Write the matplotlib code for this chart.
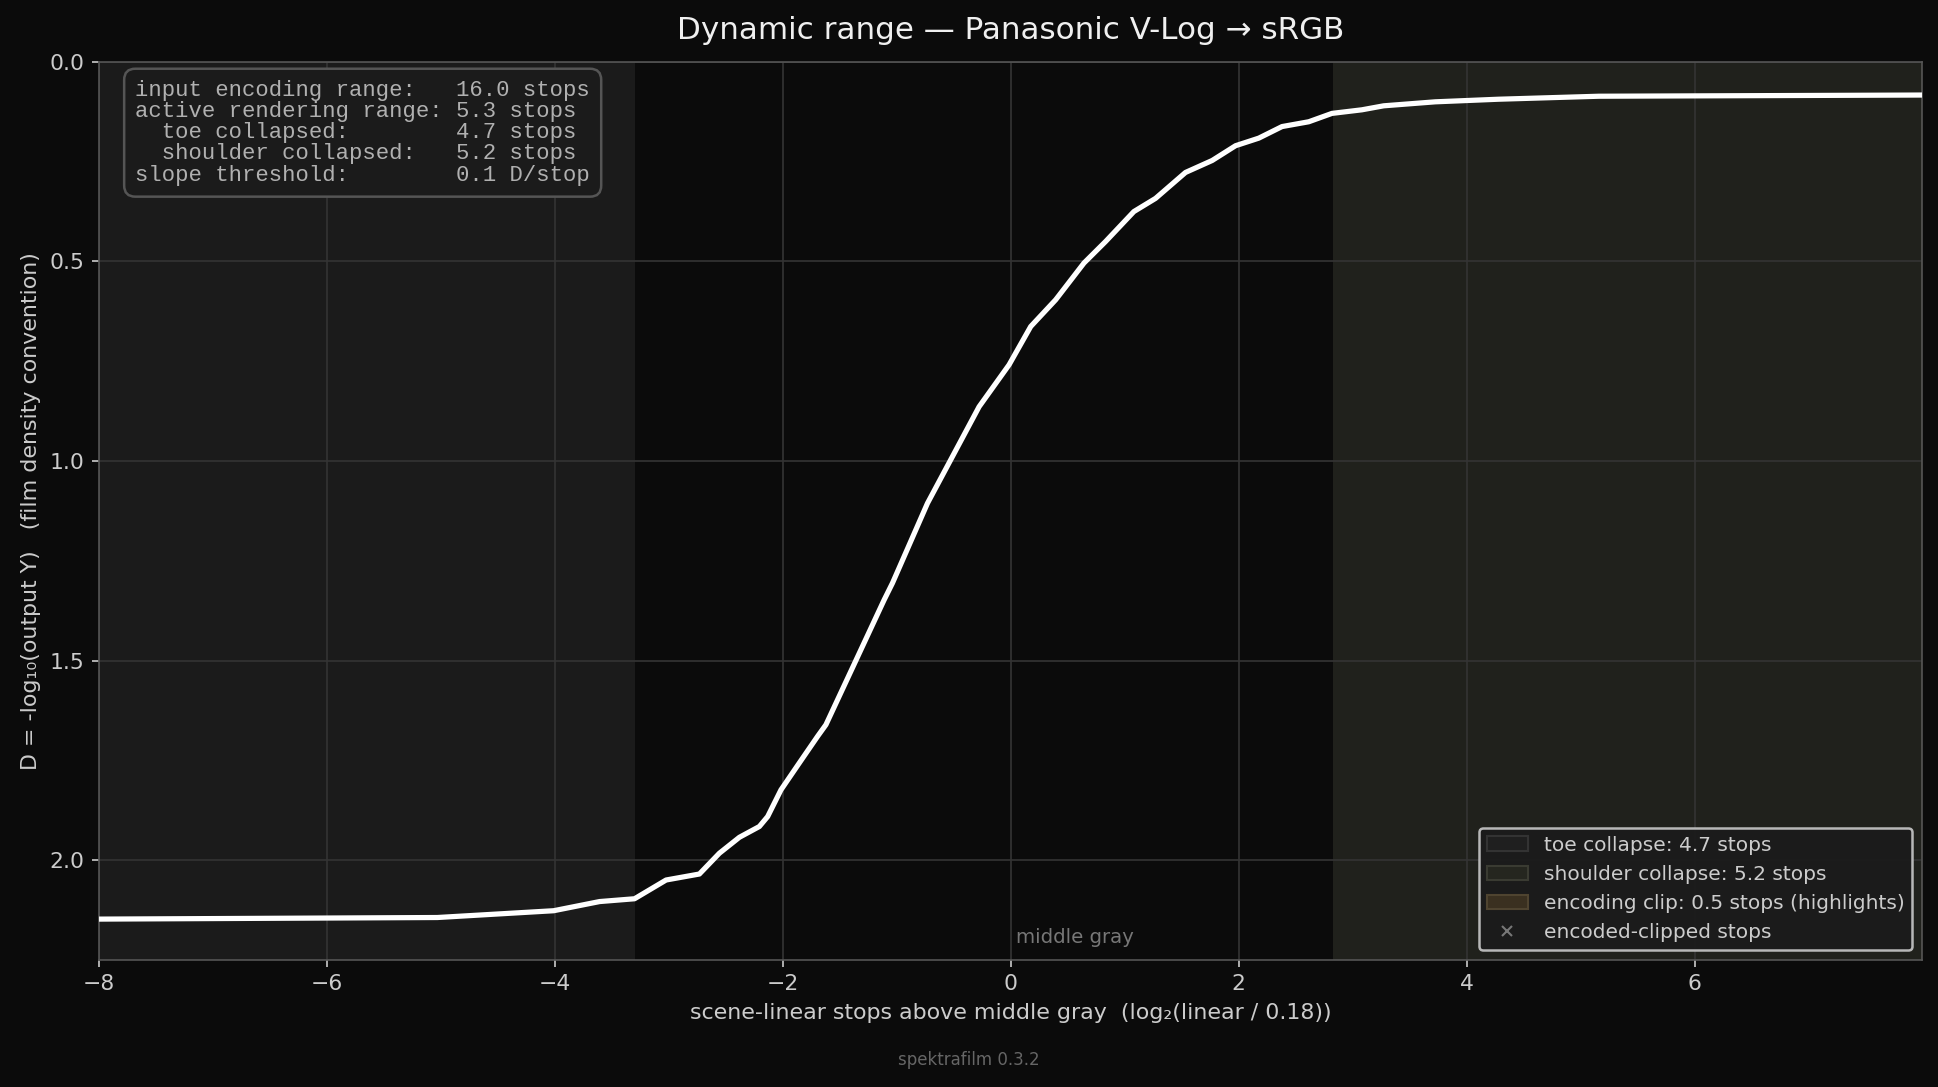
import numpy as np
import matplotlib.pyplot as plt
from matplotlib.patches import Patch
from matplotlib.lines import Line2D

# curve (stops above middle gray -> density)
stops = [-8.0, -5.03, -4.01, -3.606, -3.30, -3.023, -2.731, -2.556, -2.38, -2.205,
         -2.132, -2.015, -1.855, -1.694, -1.621, -1.358, -1.11, -1.037, -0.73,
         -0.277, -0.014, 0.176, 0.395, 0.643, 0.833, 1.081, 1.271, 1.534, 1.768,
         1.973, 2.177, 2.381, 2.615, 2.819, 3.082, 3.273, 3.726, 4.28, 5.16, 8.0]
density = [2.148, 2.144, 2.127, 2.104, 2.097, 2.050, 2.035, 1.983, 1.943, 1.916,
           1.891, 1.824, 1.757, 1.690, 1.661, 1.50, 1.348, 1.306, 1.106,
           0.864, 0.759, 0.663, 0.596, 0.504, 0.450, 0.375, 0.342, 0.277, 0.247,
           0.210, 0.191, 0.162, 0.150, 0.129, 0.120, 0.110, 0.100, 0.0935, 0.086, 0.083]

toe_range = (-8.0, -3.30)
shoulder_range = (2.83, 8.0)
clip_range = (7.99, 8.49)

info_lines = ["input encoding range:   16.0 stops",
              "active rendering range: 5.3 stops",
              "  toe collapsed:        4.7 stops",
              "  shoulder collapsed:   5.2 stops",
              "slope threshold:        0.1 D/stop"]

legend_labels = ["toe collapse: 4.7 stops",
                 "shoulder collapse: 5.2 stops",
                 "encoding clip: 0.5 stops (highlights)",
                 "encoded-clipped stops"]

bg = "#0b0b0b"
fig = plt.figure(figsize=(12.92, 7.247), dpi=150, facecolor=bg)
ax = fig.add_axes([0.051, 0.117, 0.941, 0.826], facecolor=bg)

ax.axvspan(*toe_range, color="#1b1b1b", zorder=0, lw=0)
ax.axvspan(*shoulder_range, color="#20211c", zorder=0, lw=0)
ax.axvspan(*clip_range, color="#3a3020", alpha=0.6, zorder=0, lw=0)

ax.grid(True, color="#343434", lw=0.8, zorder=1)
ax.set_axisbelow(True)

ax.plot(stops, density, color="white", lw=2.5, zorder=3)

ax.set_xlim(-8, 8)
ax.set_ylim(2.25, 0)
ax.set_xticks([-8, -6, -4, -2, 0, 2, 4, 6])
ax.set_yticks([0.0, 0.5, 1.0, 1.5, 2.0])
ax.yaxis.set_major_formatter(plt.FormatStrFormatter("%.1f"))

for s in ax.spines.values():
    s.set_color("#555555")
ax.tick_params(colors="#cccccc", labelsize=10.5)

ax.set_xlabel("scene-linear stops above middle gray  (log\u2082(linear / 0.18))",
              color="#cccccc", fontsize=10.65)
ax.set_ylabel("D = -log\u2081\u2080(output Y)   (film density convention)",
              color="#cccccc", fontsize=10.65)
ax.set_title("Dynamic range \u2014 Panasonic V-Log \u2192 sRGB",
             color="#f0f0f0", fontsize=14.9, pad=11)

ax.text(0.05, 2.195, "middle gray", color="#777777", fontsize=9.5,
        ha="left", va="center")

ax.text(0.02, 0.98, "\n".join(info_lines), transform=ax.transAxes,
        ha="left", va="top", family="Liberation Mono", fontsize=10.7,
        linespacing=1.01, color="#b0b0b0", zorder=5,
        bbox=dict(boxstyle="round,pad=0.5", facecolor="#1b1b1b",
                  edgecolor="#555555", lw=1.2))

handles = [Patch(facecolor="#1f1f1f", edgecolor="#333333"),
           Patch(facecolor="#25261f", edgecolor="#3a3b32"),
           Patch(facecolor="#3a3020", edgecolor="#4f4430"),
           Line2D([], [], ls="none", marker="x", color="#777777", markersize=5)]
leg = ax.legend(handles, legend_labels, loc="lower right", fontsize=9.65,
                facecolor="#1b1b1b", edgecolor="#c0c0c0", framealpha=0.95,
                labelcolor="#cccccc")
leg.get_frame().set_linewidth(1.2)

fig.text(0.5, 0.025, "spektrafilm 0.3.2", ha="center", va="center",
         color="#666666", fontsize=8)

fig.savefig("out.png", dpi=150, facecolor=bg)
